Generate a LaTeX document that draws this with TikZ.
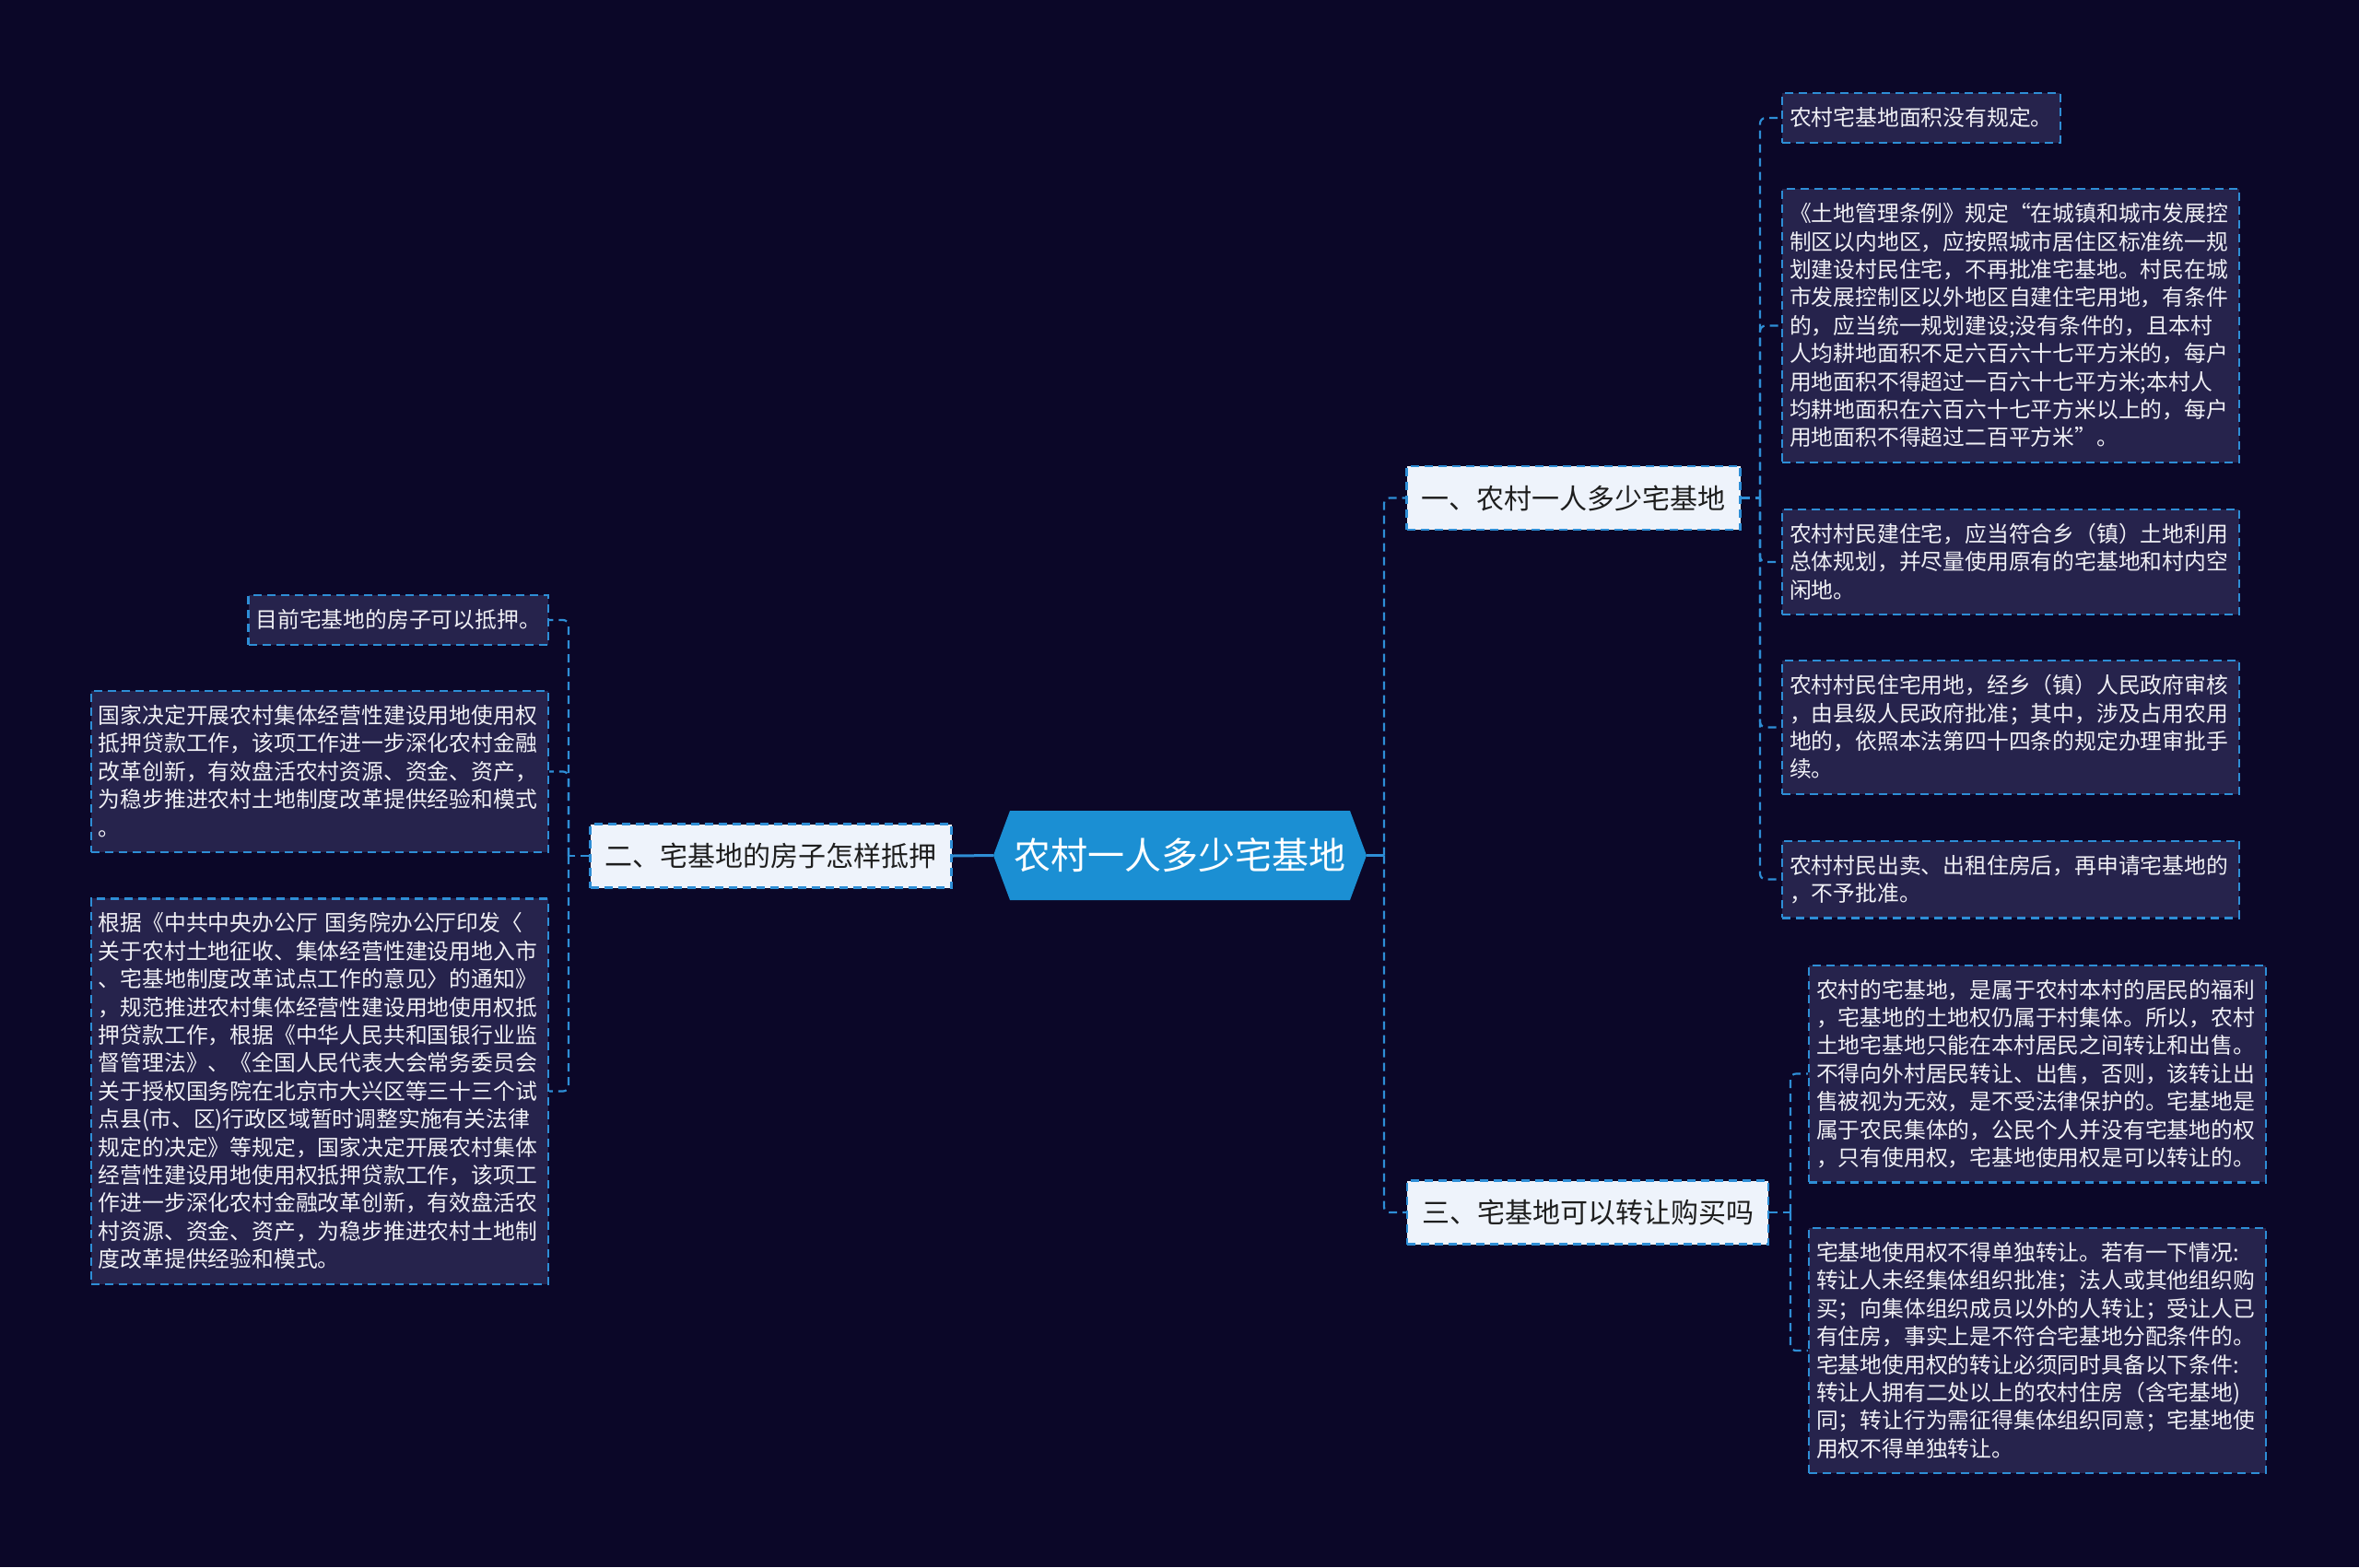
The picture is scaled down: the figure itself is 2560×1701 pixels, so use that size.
\documentclass[tikz,border=0pt]{standalone}
\usepackage{fontspec}
\setmainfont{Noto Sans CJK SC}
\definecolor{bg}{RGB}{11,7,40}
\definecolor{leaf}{RGB}{38,35,76}
\definecolor{linec}{RGB}{46,142,214}
\definecolor{branchfill}{RGB}{238,243,251}
\definecolor{branchtext}{RGB}{30,30,30}
\definecolor{rootblue}{RGB}{27,143,211}
\definecolor{leaftext}{RGB}{240,240,245}
\newcommand\mystrut{\rule[-6.4pt]{0pt}{30.4pt}}
\begin{document}
\begin{tikzpicture}[x=1pt,y=-1pt,
 conn/.style={draw=linec, line width=2.2pt, dash pattern=on 9pt off 6pt, rounded corners=6pt},
 rootconn/.style={draw=linec, line width=3pt},
 leafbox/.style={draw=linec, fill=leaf, line width=2.2pt, dash pattern=on 9pt off 6pt, text=leaftext,
   font=\fontsize{23.8}{30.4}\selectfont, inner xsep=8pt, inner ysep=11.5pt, align=left,
   execute at begin node=\mystrut, execute at end node=\mystrut},
 wide/.style={text width=480pt},
 branch/.style={draw=linec, fill=branchfill, line width=2.2pt, dash pattern=on 9pt off 6pt, text=branchtext,
   font=\fontsize{30}{36}\selectfont, inner xsep=16pt, minimum height=69pt},
 root/.style={text=white, font=\fontsize{40}{48}\selectfont, minimum width=405pt, minimum height=97pt, inner sep=0pt}]
\useasboundingbox (0,0) rectangle (2560,1701);
\fill[bg] (0,0) rectangle (2560,1701);

% root
\fill[rootblue] (1078,928.5) -- (1096,880) -- (1465,880) -- (1483,928.5) -- (1465,977) -- (1096,977) -- cycle;
\node[root] (root) at (1280.5,928.5) {农村一人多少宅基地};

% branches
\node[branch] (b1) at (1707.5,540.5) {一、农村一人多少宅基地};
\node[branch] (b2) at (836.5,929) {二、宅基地的房子怎样抵押};
\node[branch] (b3) at (1723,1316) {三、宅基地可以转让购买吗};

% right leaves, branch 1
\node[leafbox, anchor=west] (r1) at (1933,128) {农村宅基地面积没有规定。};
\node[leafbox, wide, anchor=west] (r2) at (1933,353.5) {《土地管理条例》规定“在城镇和城市发展控\\制区以内地区，应按照城市居住区标准统一规\\划建设村民住宅，不再批准宅基地。村民在城\\市发展控制区以外地区自建住宅用地，有条件\\的，应当统一规划建设;没有条件的，且本村\\人均耕地面积不足六百六十七平方米的，每户\\用地面积不得超过一百六十七平方米;本村人\\均耕地面积在六百六十七平方米以上的，每户\\用地面积不得超过二百平方米”。};
\node[leafbox, wide, anchor=west] (r3) at (1933,610) {农村村民建住宅，应当符合乡（镇）土地利用\\总体规划，并尽量使用原有的宅基地和村内空\\闲地。};
\node[leafbox, wide, anchor=west] (r4) at (1933,789.5) {农村村民住宅用地，经乡（镇）人民政府审核\\，由县级人民政府批准；其中，涉及占用农用\\地的，依照本法第四十四条的规定办理审批手\\续。};
\node[leafbox, wide, anchor=west] (r5) at (1933,954.5) {农村村民出卖、出租住房后，再申请宅基地的\\，不予批准。};

% right leaves, branch 3
\node[leafbox, wide, anchor=west] (r6) at (1962,1165.5) {农村的宅基地，是属于农村本村的居民的福利\\，宅基地的土地权仍属于村集体。所以，农村\\土地宅基地只能在本村居民之间转让和出售。\\不得向外村居民转让、出售，否则，该转让出\\售被视为无效，是不受法律保护的。宅基地是\\属于农民集体的，公民个人并没有宅基地的权\\，只有使用权，宅基地使用权是可以转让的。};
\node[leafbox, wide, anchor=west] (r7) at (1962,1466) {宅基地使用权不得单独转让。若有一下情况:\\转让人未经集体组织批准；法人或其他组织购\\买；向集体组织成员以外的人转让；受让人已\\有住房，事实上是不符合宅基地分配条件的。\\宅基地使用权的转让必须同时具备以下条件:\\转让人拥有二处以上的农村住房（含宅基地)\\同；转让行为需征得集体组织同意；宅基地使\\用权不得单独转让。};

% left leaves
\node[leafbox, anchor=east] (l1) at (596,673) {目前宅基地的房子可以抵押。};
\node[leafbox, wide, anchor=east] (l2) at (596,837.5) {国家决定开展农村集体经营性建设用地使用权\\抵押贷款工作，该项工作进一步深化农村金融\\改革创新，有效盘活农村资源、资金、资产，\\为稳步推进农村土地制度改革提供经验和模式\\。};
\node[leafbox, wide, anchor=east] (l3) at (596,1184.5) {根据《中共中央办公厅 国务院办公厅印发〈\\关于农村土地征收、集体经营性建设用地入市\\、宅基地制度改革试点工作的意见〉的通知》\\，规范推进农村集体经营性建设用地使用权抵\\押贷款工作，根据《中华人民共和国银行业监\\督管理法》、《全国人民代表大会常务委员会\\关于授权国务院在北京市大兴区等三十三个试\\点县(市、区)行政区域暂时调整实施有关法律\\规定的决定》等规定，国家决定开展农村集体\\经营性建设用地使用权抵押贷款工作，该项工\\作进一步深化农村金融改革创新，有效盘活农\\村资源、资金、资产，为稳步推进农村土地制\\度改革提供经验和模式。};

% connectors root
\coordinate (jr) at (1502,928.5);
\draw[rootconn] (root.east) -- (jr);
\draw[conn] (jr) |- (b1.west);
\draw[conn] (jr) |- (b3.west);
\draw[rootconn] (root.west) -- (b2.east);

% branch 1
\coordinate (j1) at (1910,540.5);
\draw[conn] (b1.east) -- (j1);
\foreach \n in {r1,r2,r3,r4,r5} { \draw[conn] (j1) |- (\n.west); }

% branch 3
\coordinate (j3) at (1943,1316);
\draw[conn] (b3.east) -- (j3);
\foreach \n in {r6,r7} { \draw[conn] (j3) |- (\n.west); }

% branch 2
\coordinate (jl) at (617,929);
\draw[conn] (b2.west) -- (jl);
\foreach \n in {l1,l2,l3} { \draw[conn] (jl) |- (\n.east); }
\end{tikzpicture}
\end{document}
